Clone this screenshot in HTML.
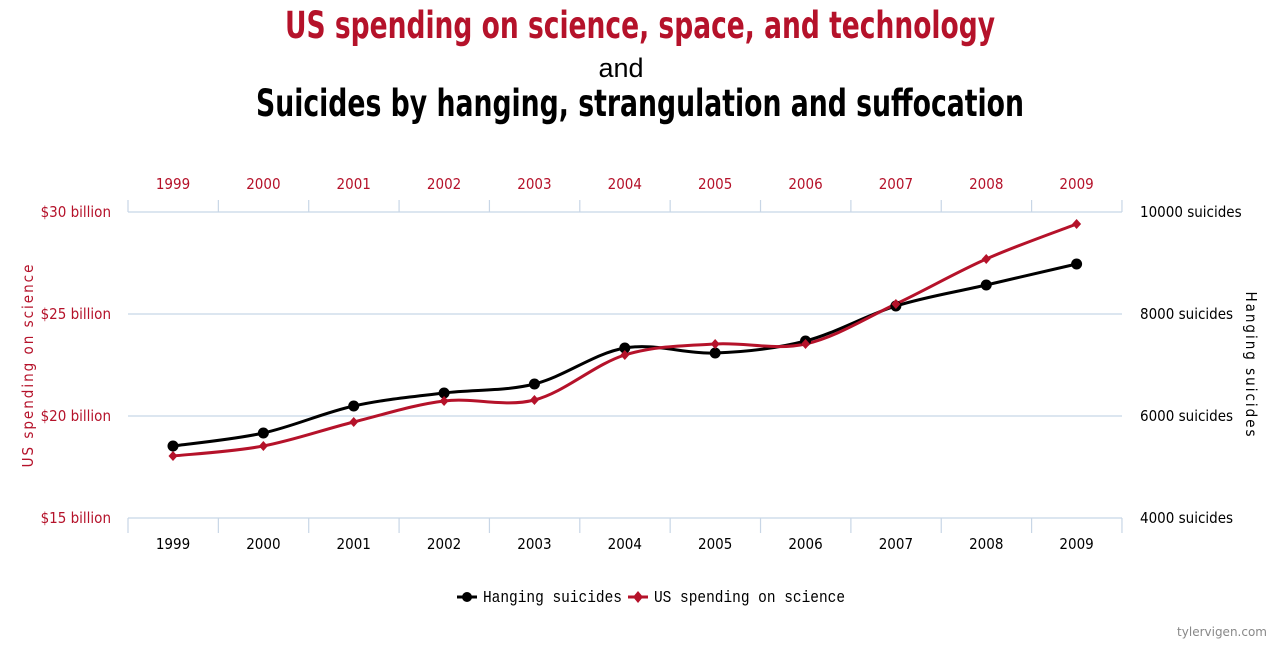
<!DOCTYPE html>
<html><head><meta charset="utf-8"><style>
body{margin:0;background:#fff;width:1287px;height:649px;overflow:hidden}
svg{display:block}
.t{font-family:"DejaVu Sans Condensed","DejaVu Sans",sans-serif;font-weight:bold;font-stretch:condensed}
.ax{font-family:"DejaVu Sans Condensed","DejaVu Sans",sans-serif;font-stretch:condensed;font-size:15px}
</style></head><body>
<svg id="s" width="1287" height="649" xmlns="http://www.w3.org/2000/svg">
<text class="t" x="285" y="38" font-size="37" fill="#b5122a" textLength="710" lengthAdjust="spacingAndGlyphs">US spending on science, space, and technology</text>
<text x="621" y="77" text-anchor="middle" font-size="27" font-family="Liberation Sans,sans-serif" fill="#000">and</text>
<text class="t" x="256" y="116" font-size="37" fill="#000" textLength="768" lengthAdjust="spacingAndGlyphs">Suicides by hanging, strangulation and suffocation</text>
<g stroke="#c8d6e6" stroke-width="1.2">
<line x1="128" y1="212" x2="1122" y2="212"/>
<line x1="128" y1="314" x2="1122" y2="314"/>
<line x1="128" y1="416" x2="1122" y2="416"/>
<line x1="128" y1="518" x2="1122" y2="518"/>
</g>
<g id="ticks" stroke="#c8d6e6" stroke-width="1.2"></g>
<g id="lab"></g>
<g class="ax" fill="#b5122a" text-anchor="end">
<text x="111" y="217">$30 billion</text><text x="111" y="319">$25 billion</text>
<text x="111" y="421">$20 billion</text><text x="111" y="523">$15 billion</text>
</g>
<g class="ax" fill="#000">
<text x="1140" y="217">10000 suicides</text><text x="1140" y="319">8000 suicides</text>
<text x="1140" y="421">6000 suicides</text><text x="1140" y="523">4000 suicides</text>
</g>
<text class="ax" transform="translate(33,365) rotate(-90)" text-anchor="middle" fill="#b5122a" letter-spacing="2">US spending on science</text>
<text class="ax" transform="translate(1246,365) rotate(90)" text-anchor="middle" fill="#000" letter-spacing="2">Hanging suicides</text>
<path id="pb" fill="none" stroke="#000" stroke-width="3"/>
<path id="pr" fill="none" stroke="#b5122a" stroke-width="3"/>
<g id="mk"></g>
<g font-family="Liberation Mono,monospace" font-size="17">
<line x1="457" y1="597" x2="477" y2="597" stroke="#000" stroke-width="3"/><circle cx="467" cy="597" r="5"/>
<text x="483" y="602" fill="#000" textLength="139" lengthAdjust="spacingAndGlyphs">Hanging suicides</text>
<line x1="628" y1="597" x2="648" y2="597" stroke="#b5122a" stroke-width="3"/><path d="M638 591L643 597L638 603L633 597Z" fill="#b5122a"/>
<text x="654" y="602" fill="#000" textLength="191" lengthAdjust="spacingAndGlyphs">US spending on science</text>
</g>
<text x="1267" y="636" text-anchor="end" font-family="DejaVu Sans,sans-serif" font-size="12" fill="#888">tylervigen.com</text>
</svg>
<script>
var NS="http://www.w3.org/2000/svg",s=document.getElementById('s');
function el(t,a,p){var e=document.createElementNS(NS,t);for(var k in a)e.setAttribute(k,a[k]);(p||s).appendChild(e);return e}
var tk=document.getElementById('ticks'),lb=document.getElementById('lab'),mk=document.getElementById('mk');
for(var i=0;i<=11;i++){var x=128+i*90.36;el('line',{x1:x,y1:200,x2:x,y2:212},tk);el('line',{x1:x,y1:518,x2:x,y2:533},tk);}
for(var i=0;i<11;i++){var x=173+i*90.36;
var t=el('text',{x:x,y:189,'text-anchor':'middle','class':'ax',fill:'#b5122a'},lb);t.textContent=1999+i;
t=el('text',{x:x,y:549,'text-anchor':'middle','class':'ax',fill:'#000'},lb);t.textContent=1999+i;}
var B=[446,433,406,393,384,348,353,341,306,285,264],R=[456,446,422,401,400,355,344,344,304,259,224];
function path(Y){var P=Y.map(function(y,i){return[173+i*90.36,y]});var d='M'+P[0];
for(var i=0;i<P.length-1;i++){var p0=P[i-1]||P[i],p1=P[i],p2=P[i+1],p3=P[i+2]||P[i+1],k=1/6;
d+='C'+(p1[0]+(p2[0]-p0[0])*k)+','+(p1[1]+(p2[1]-p0[1])*k)+' '+(p2[0]-(p3[0]-p1[0])*k)+','+(p2[1]-(p3[1]-p1[1])*k)+' '+p2;}return d}
document.getElementById('pb').setAttribute('d',path(B));
document.getElementById('pr').setAttribute('d',path(R));
B.forEach(function(y,i){el('circle',{cx:173+i*90.36,cy:y,r:5.5,fill:'#000'},mk)});
R.forEach(function(y,i){var x=173+i*90.36;el('path',{d:'M'+x+' '+(y-5)+'L'+(x+4.5)+' '+y+'L'+x+' '+(y+5)+'L'+(x-4.5)+' '+y+'Z',fill:'#b5122a'},mk)});
</script>
</body></html>
